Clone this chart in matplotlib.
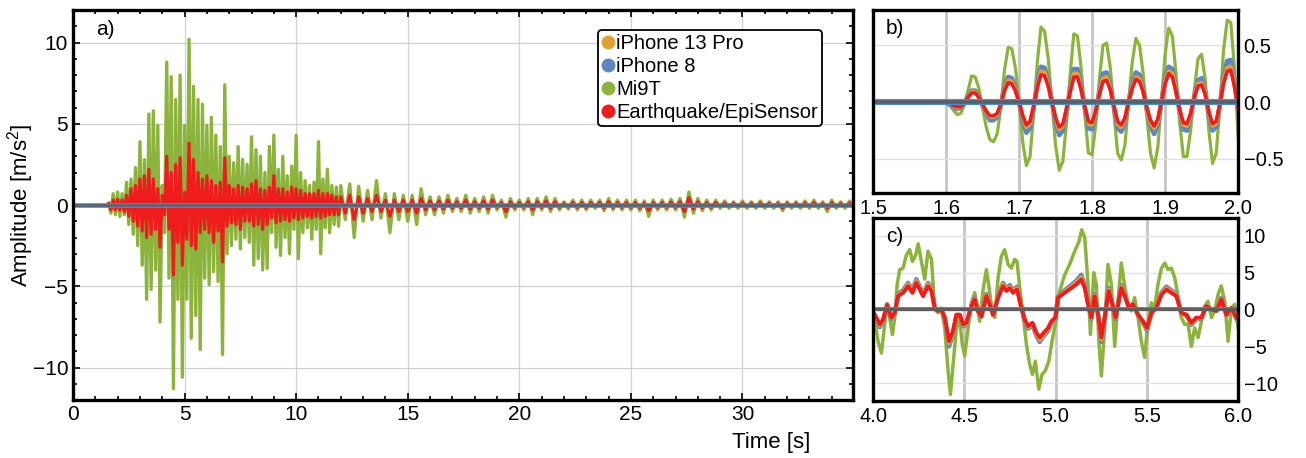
import numpy as np
import matplotlib
matplotlib.use("Agg")
import matplotlib.pyplot as plt
from matplotlib.lines import Line2D
from matplotlib.ticker import MultipleLocator

plt.rcParams['font.family'] = ['Liberation Sans', 'DejaVu Sans']
plt.rcParams['font.size'] = 13.5
plt.rcParams['mathtext.fontset'] = 'custom'
plt.rcParams['mathtext.rm'] = 'Liberation Sans'
plt.rcParams['mathtext.it'] = 'Liberation Sans:italic'
plt.rcParams['mathtext.bf'] = 'Liberation Sans:bold'

# colours of the four records
c_13pro = '#e3a033'
c_8 = '#5f86c2'
c_mi9t = '#8cb43c'
c_eq = '#ee1c1c'
c_flat_blue = '#3d93dc'
c_flat_gray = '#5e5e5e'

# ---- panel a: whole record, peaks ----
# 1.6 s .. 12.0 s, one value every 0.1 s
mi9t_a1 = [0.1, -0.5, 0.7, -0.6, 0.8, -0.7, 0.7, -0.6, 1.4, -1.2,
           1.6, -1.8, 2.3, -2.5, 3.9, -3.7, 2.8, -5.8, 5.6, -5.2,
           5.8, -4.0, 4.9, -7.2, 1.2, -1.7, 8.8, -4.5, 7.9, -11.3,
           6.5, -5.8, 8.0, -10.6, 4.9, -5.8, 10.2, -8.2, 7.3, -6.8,
           6.5, -8.9, 6.2, -4.5, 4.9, -4.9, 5.4, -4.1, 4.3, -4.7,
           3.6, -9.2, 7.4, -3.0, 3.0, -2.5, 2.6, -2.1, 3.6, -2.7,
           2.8, -2.0, 2.5, -2.3, 4.2, -3.7, 3.4, -3.3, 3.0, -4.0,
           2.0, -3.9, 3.6, -1.7, 4.3, -2.6, 2.2, -3.1, 3.0, -2.0,
           1.8, -3.0, 2.4, -1.5, 4.3, -3.3, 2.0, -1.7, 1.5, -1.4,
           1.2, -2.1, 1.4, -1.5, 3.9, -3.0, 1.6, -1.4, 2.2, -1.7,
           1.2, -1.2, 1.1, -1.3, 1.2]
eq_a1 = [0.1, -0.3, 0.3, -0.3, 0.35, -0.3, 0.3, -0.4, 0.6, -0.7,
         1.0, -1.0, 1.2, -1.3, 1.6, -1.6, 1.8, -2.0, 2.2, -1.8,
         1.6, -1.5, 1.0, -2.6, 0.6, -0.6, 3.0, -1.5, 2.0, -4.3,
         2.5, -2.3, 2.9, -3.7, 0.8, -2.1, 3.8, -2.5, 2.8, -2.7,
         2.0, -1.7, 1.6, -1.5, 1.8, -1.7, 1.5, -2.3, 1.2, -1.6,
         1.4, -3.5, 2.9, -1.3, 1.2, -1.1, 1.0, -1.2, 1.2, -1.5,
         1.1, -1.0, 1.0, -1.0, 1.3, -1.3, 1.5, -1.2, 1.0, -1.5,
         0.9, -1.2, 1.1, -0.8, 1.8, -1.1, 1.0, -1.0, 1.0, -0.9,
         0.8, -1.0, 1.1, -0.8, 1.0, -0.9, 0.9, -0.8, 0.7, -0.7,
         0.7, -0.8, 0.7, -0.7, 0.9, -0.8, 0.7, -0.7, 0.7, -0.6,
         0.6, -0.6, 0.5, -0.6, 0.5]
# 12.2 s .. 35.0 s, one value every 0.2 s
mi9t_a2 = [-0.9, 1.3, -2.0, 1.15, -1.0, 0.9, -0.9, 1.5, -0.8, 0.7,
           -1.7, 0.7, -0.9, 0.6, -1.0, 0.6, -1.2, 1.0, -0.6, 0.5,
           -0.6, 0.5, -0.5, 0.6, -0.4, 0.4, -0.4, 0.6, -0.5, 0.4,
           -0.4, 0.5, -0.5, 0.6, -0.3, 0.3, -0.75, 0.4, -0.3, 0.3,
           -0.3, 0.4, -0.6, 0.4, -0.3, 0.5, -0.4, 0.4, -0.3, 0.2,
           -0.25, 0.3, -0.3, 0.3, -0.3, 0.3, -0.2, 0.3, -0.35, 0.4,
           -0.3, 0.3, -0.3, 0.3, -0.3, 0.3, -0.35, 0.25, -0.7, 0.3,
           -0.3, 0.3, -0.3, 0.35, -0.3, 0.4, -0.75, 0.8, -0.5, 0.4,
           -0.35, 0.3, -0.3, 0.3, -0.2, 0.25, -0.2, 0.2, -0.2, 0.25,
           -0.2, 0.2, -0.2, 0.25, -0.2, 0.2, -0.2, 0.2, -0.35, 0.2,
           -0.2, 0.2, -0.2, 0.25, -0.2, 0.3, -0.2, 0.2, -0.4, 0.3,
           -0.2, 0.2, -0.2, 0.25, -0.2]
eq_a2 = [-0.5, 0.6, -0.9, 0.5, -0.5, 0.4, -0.4, 0.6, -0.4, 0.3,
         -0.7, 0.3, -0.4, 0.3, -0.4, 0.3, -0.5, 0.4, -0.3, 0.25,
         -0.3, 0.25, -0.25, 0.3, -0.2, 0.2, -0.2, 0.3, -0.25, 0.2,
         -0.2, 0.25, -0.25, 0.3, -0.15, 0.15, -0.4, 0.2, -0.15, 0.15,
         -0.15, 0.2, -0.3, 0.2, -0.15, 0.25, -0.2, 0.2, -0.15, 0.1,
         -0.12, 0.15, -0.15, 0.15, -0.15, 0.15, -0.1, 0.15, -0.18, 0.2,
         -0.15, 0.15, -0.15, 0.15, -0.15, 0.15, -0.18, 0.12, -0.35, 0.15,
         -0.15, 0.15, -0.15, 0.18, -0.15, 0.2, -0.4, 0.45, -0.25, 0.2,
         -0.18, 0.15, -0.15, 0.15, -0.1, 0.12, -0.1, 0.1, -0.1, 0.12,
         -0.1, 0.1, -0.1, 0.12, -0.1, 0.1, -0.1, 0.1, -0.18, 0.1,
         -0.1, 0.1, -0.1, 0.12, -0.1, 0.15, -0.1, 0.1, -0.2, 0.15,
         -0.1, 0.1, -0.1, 0.12, -0.1]

# ---- panel b: onset 1.6 s .. 2.0 s, one value every 5 ms ----
mi9t_b = [-0.01, -0.03, -0.07, -0.11, -0.10, -0.03, 0.10, 0.23,
          0.22, 0.12, -0.05, -0.22, -0.33, -0.35, -0.28, -0.05, 0.28, 0.48,
          0.47, 0.30, 0.0, -0.35, -0.56, -0.48, -0.10, 0.35, 0.66,
          0.62, 0.38, 0.0, -0.38, -0.60, -0.52, -0.18, 0.25, 0.60,
          0.58, 0.30, -0.10, -0.45, -0.46, -0.20, 0.20, 0.50,
          0.52, 0.30, -0.10, -0.45, -0.51, -0.38, 0.0, 0.35, 0.56,
          0.50, 0.25, -0.12, -0.45, -0.58, -0.40, 0.0, 0.42, 0.65,
          0.58, 0.25, -0.18, -0.48, -0.48, -0.25, 0.10, 0.38,
          0.42, 0.20, -0.25, -0.54, -0.45, -0.05, 0.45, 0.72, 0.70, 0.30, -0.30]
eq_b = [0.0, -0.01, -0.03, -0.04, -0.04, -0.01, 0.04, 0.08,
        0.08, 0.04, -0.02, -0.08, -0.12, -0.12, -0.10, -0.02, 0.10, 0.17,
        0.16, 0.10, 0.0, -0.12, -0.20, -0.17, -0.04, 0.13, 0.24,
        0.23, 0.14, 0.0, -0.14, -0.22, -0.19, -0.06, 0.09, 0.22,
        0.22, 0.11, -0.04, -0.17, -0.18, -0.08, 0.07, 0.18,
        0.19, 0.11, -0.04, -0.17, -0.20, -0.14, 0.0, 0.12, 0.20,
        0.18, 0.09, -0.05, -0.16, -0.21, -0.15, 0.0, 0.16, 0.25,
        0.22, 0.09, -0.07, -0.18, -0.19, -0.10, 0.04, 0.14,
        0.15, 0.07, -0.09, -0.19, -0.17, -0.02, 0.16, 0.27, 0.28, 0.14, -0.05]
ip8_b = [0.0, -0.02, -0.04, -0.06, -0.05, -0.01, 0.05, 0.10,
         0.10, 0.05, -0.03, -0.10, -0.16, -0.16, -0.13, -0.03, 0.13, 0.22,
         0.21, 0.13, 0.0, -0.16, -0.27, -0.23, -0.05, 0.17, 0.31,
         0.30, 0.18, 0.0, -0.18, -0.29, -0.25, -0.08, 0.12, 0.29,
         0.29, 0.15, -0.05, -0.23, -0.24, -0.10, 0.09, 0.25,
         0.26, 0.15, -0.05, -0.23, -0.26, -0.18, 0.0, 0.16, 0.26,
         0.24, 0.12, -0.07, -0.21, -0.28, -0.20, 0.0, 0.21, 0.31,
         0.29, 0.12, -0.09, -0.24, -0.25, -0.13, 0.05, 0.19,
         0.21, 0.09, -0.12, -0.25, -0.22, -0.03, 0.21, 0.36, 0.37, 0.18, -0.07]
ip13_b = [0.0, -0.01, -0.03, -0.05, -0.04, -0.01, 0.04, 0.09,
          0.09, 0.04, -0.02, -0.09, -0.13, -0.13, -0.11, -0.02, 0.11, 0.19,
          0.18, 0.11, 0.0, -0.13, -0.22, -0.19, -0.04, 0.14, 0.27,
          0.26, 0.15, 0.0, -0.15, -0.24, -0.21, -0.07, 0.10, 0.25,
          0.25, 0.12, -0.04, -0.19, -0.20, -0.09, 0.08, 0.21,
          0.22, 0.12, -0.04, -0.19, -0.22, -0.15, 0.0, 0.13, 0.22,
          0.20, 0.10, -0.06, -0.18, -0.23, -0.17, 0.0, 0.18, 0.27,
          0.25, 0.10, -0.08, -0.20, -0.21, -0.11, 0.04, 0.16,
          0.17, 0.08, -0.10, -0.21, -0.19, -0.02, 0.18, 0.30, 0.31, 0.16, -0.06]

# ---- panel c: strong motion 4 s .. 6 s ----
t_c_mi9t = [4.009, 4.027, 4.046, 4.064, 4.077, 4.091, 4.106, 4.119, 4.132, 4.146,
            4.164, 4.183, 4.201, 4.216, 4.234, 4.247, 4.265, 4.283, 4.301, 4.320,
            4.338, 4.356, 4.374, 4.393, 4.411, 4.424, 4.442, 4.457, 4.471, 4.489,
            4.502, 4.521, 4.539, 4.557, 4.570, 4.584, 4.603, 4.621, 4.636, 4.654,
            4.667, 4.685, 4.703, 4.721, 4.740, 4.758, 4.776, 4.789, 4.804, 4.822,
            4.840, 4.858, 4.873, 4.889, 4.908, 4.926, 4.944, 4.963, 4.981,
            5.004, 5.023, 5.050, 5.077, 5.105, 5.128, 5.143, 5.160, 5.178, 5.191,
            5.209, 5.223, 5.238, 5.251, 5.269, 5.287, 5.306, 5.324, 5.342, 5.360,
            5.379, 5.397, 5.415, 5.433, 5.452, 5.470, 5.488, 5.507, 5.525, 5.543,
            5.561, 5.580, 5.598, 5.616, 5.634, 5.653, 5.671, 5.689, 5.707, 5.726,
            5.744, 5.762, 5.781, 5.799, 5.817, 5.835, 5.854, 5.872, 5.890, 5.908,
            5.927, 5.945, 5.963, 5.981, 6.000]
mi9t_c = [-1.1, -4.3, -5.9, -2.0, 0.8, -1.1, -3.4, -1.1, 3.4, 5.4,
          5.6, 7.4, 8.1, 6.5, 7.4, 8.9, 6.5, 4.1, 7.9, 6.8,
          0.0, -0.45, 0.2, -2.5, -8.3, -11.5, -6.5, -2.5, -0.7, -4.7,
          -6.3, -2.5, 0.9, 2.3, 0.45, -1.6, 2.7, 5.4, 2.9, -0.45,
          -1.1, 4.3, 7.2, 8.1, 6.1, 5.6, 6.8, 6.5, 2.9, -0.7,
          -4.7, -7.4, -8.8, -7.0, -10.8, -8.8, -8.3, -7.0, -4.3,
          -1.1, 2.5, 4.7, 6.1, 7.9, 9.2, 10.8, 9.7, 3.4, -3.4,
          5.0, 3.4, -4.7, -9.0, -2.5, 6.1, 3.4, -5.0, 1.1, 6.3,
          3.2, 0.7, -0.2, 1.6, -1.1, -4.3, -6.5, -1.6, 0.9, 0.2,
          3.4, 5.6, 6.3, 5.4, 5.6, 4.3, 1.8, -1.1, -2.0, -2.0,
          -5.0, -2.5, -3.8, -1.6, 0.45, 1.1, -1.1, -0.2, 2.0, 3.2,
          1.1, -4.3, 0.0, 0.7, -2.5]
t_c_eq = [4.009, 4.037, 4.055, 4.077, 4.100, 4.119, 4.137, 4.164, 4.192, 4.216,
          4.237, 4.256, 4.274, 4.301, 4.320, 4.338, 4.356, 4.374, 4.393, 4.416,
          4.438, 4.457, 4.475, 4.493, 4.511, 4.539, 4.557, 4.575, 4.594, 4.621,
          4.639, 4.658, 4.685, 4.712, 4.731, 4.749, 4.767, 4.789, 4.813, 4.831,
          4.849, 4.873, 4.895, 4.913, 4.935, 4.959, 4.977, 4.999,
          5.013, 5.050, 5.086, 5.114, 5.141, 5.160, 5.178, 5.196, 5.214, 5.233,
          5.251, 5.269, 5.291, 5.311, 5.329, 5.360, 5.379, 5.402, 5.424, 5.452,
          5.479, 5.501, 5.525, 5.552, 5.580, 5.607, 5.634, 5.662, 5.689, 5.717,
          5.744, 5.771, 5.799, 5.826, 5.854, 5.881, 5.908, 5.936, 5.963, 5.991]
eq_c = [-0.7, -2.0, -1.35, 0.6, -1.1, -0.45, 1.8, 2.25, 3.15, 2.25,
        3.6, 2.7, 1.8, 3.15, 2.5, 0.2, -0.2, 0.0, -1.1, -4.3,
        -2.9, -0.7, -0.7, -2.0, -1.8, 0.45, 1.35, -0.2, -0.9, 1.8,
        0.7, -0.7, 1.6, 3.15, 2.5, 2.9, 2.25, 2.7, 0.2, -1.35,
        -2.25, -1.8, -3.15, -3.8, -3.15, -2.5, -1.6, -1.1,
        1.6, 2.25, 2.9, 3.4, 4.05, 2.9, 0.7, -1.1, 1.8, -0.7,
        -3.8, -1.1, 2.5, 0.7, -1.1, 2.9, 1.8, 0.2, 0.7, -0.7,
        -1.6, -2.5, -0.45, 0.2, 2.0, 2.7, 2.25, 1.8, -0.45, -0.7,
        -1.8, -1.1, -1.1, 0.45, 0.0, -0.2, 1.35, -0.7, 0.2, -1.1]
ip8_c = [-0.8, -2.4, -1.6, 0.7, -1.3, -0.5, 2.1, 2.6, 3.6, 2.6,
         4.1, 3.1, 2.1, 3.6, 2.9, 0.2, -0.2, 0.0, -1.3, -5.0,
         -3.4, -0.8, -0.8, -2.3, -2.1, 0.5, 1.6, -0.2, -1.0, 2.1,
         0.8, -0.8, 1.8, 3.6, 2.9, 3.3, 2.6, 3.1, 0.2, -1.6,
         -2.6, -2.1, -3.6, -4.4, -3.6, -2.9, -1.8, -1.3,
         1.8, 2.6, 3.3, 3.9, 4.7, 3.3, 0.8, -1.3, 2.1, -0.8,
         -4.4, -1.3, 2.9, 0.8, -1.3, 3.3, 2.1, 0.2, 0.8, -0.8,
         -1.8, -2.9, -0.5, 0.2, 2.3, 3.1, 2.6, 2.1, -0.5, -0.8,
         -2.1, -1.3, -1.3, 0.5, 0.0, -0.2, 1.6, -0.8, 0.2, -1.3]
ip13_c = [-0.75, -2.15, -1.45, 0.65, -1.2, -0.5, 1.95, 2.4, 3.4, 2.4,
          3.85, 2.9, 1.95, 3.4, 2.7, 0.2, -0.2, 0.0, -1.2, -4.6,
          -3.1, -0.75, -0.75, -2.15, -1.95, 0.5, 1.45, -0.2, -0.95, 1.95,
          0.75, -0.75, 1.7, 3.4, 2.7, 3.1, 2.4, 2.9, 0.2, -1.45,
          -2.4, -1.95, -3.4, -4.1, -3.4, -2.7, -1.7, -1.2,
          1.7, 2.4, 3.1, 3.65, 4.35, 3.1, 0.75, -1.2, 1.95, -0.75,
          -4.1, -1.2, 2.7, 0.75, -1.2, 3.1, 1.95, 0.2, 0.75, -0.75,
          -1.7, -2.7, -0.5, 0.2, 2.15, 2.9, 2.4, 1.95, -0.5, -0.75,
          -1.95, -1.2, -1.2, 0.5, 0.0, -0.2, 1.45, -0.75, 0.2, -1.2]

labels = ['iPhone 13 Pro', 'iPhone 8', 'Mi9T', 'Earthquake/EpiSensor']

t_a1 = 1.6 + 0.1 * np.arange(len(mi9t_a1))
t_a2 = 12.2 + 0.2 * np.arange(len(mi9t_a2))
t_a = np.concatenate([t_a1, t_a2])
t_eq_a = np.concatenate([1.6 + 0.1 * np.arange(len(eq_a1)),
                         12.2 + 0.2 * np.arange(len(eq_a2))])
t_b = 1.6 + 0.005 * np.arange(len(mi9t_b))

fig = plt.figure(figsize=(13.06, 4.58), dpi=100)
ax_a = fig.add_axes([0.0559, 0.1266, 0.5972, 0.8515])
ax_b = fig.add_axes([0.6685, 0.5786, 0.2795, 0.3996])
ax_c = fig.add_axes([0.6685, 0.1245, 0.2795, 0.3996])

# panel a
ax_a.plot(t_a, mi9t_a1 + mi9t_a2, color=c_mi9t, lw=2.4)
ax_a.plot(t_eq_a, eq_a1 + eq_a2, color=c_eq, lw=2.3)
ax_a.axhline(0, color=c_flat_blue, lw=3.4)
ax_a.axhline(0, color=c_flat_gray, lw=2.0, alpha=0.85)
ax_a.set_xlim(0, 34.95)
ax_a.set_ylim(-12, 12)
ax_a.xaxis.set_major_locator(MultipleLocator(5))
ax_a.xaxis.set_minor_locator(MultipleLocator(1))
ax_a.yaxis.set_major_locator(MultipleLocator(5))
ax_a.yaxis.set_minor_locator(MultipleLocator(1))
ax_a.tick_params(which='both', direction='in', top=True, right=True, width=1.2, labelsize=15)
ax_a.tick_params(which='major', length=5)
ax_a.tick_params(which='minor', length=3)
ax_a.grid(True, color='#d0d0d0', lw=0.9)
ax_a.set_axisbelow(True)
ax_a.set_ylabel('Amplitude [m/s$^2$]', fontsize=16)
ax_a.yaxis.set_label_coords(-0.047, 0.5)
ax_a.set_xlabel('Time [s]', fontsize=16, x=0.895, ha='center', labelpad=6)
ax_a.text(0.03, 0.95, 'a)', transform=ax_a.transAxes, ha='left', va='center', fontsize=15)

handles = [Line2D([], [], ls='none', marker='o', ms=9, color=c) for c in (c_13pro, c_8, c_mi9t, c_eq)]
leg = ax_a.legend(handles, labels, loc='upper right', bbox_to_anchor=(0.96, 0.95), borderaxespad=0,
                  fontsize=14.5, handlelength=0.6, handletextpad=0.1, labelspacing=0.2,
                  borderpad=0.2, fancybox=True, framealpha=1, edgecolor='black')
leg.get_frame().set_linewidth(1.3)

# panel b
ax_b.plot(t_b, mi9t_b, color=c_mi9t, lw=2.3)
ax_b.plot(t_b, ip8_b, color=c_8, lw=3.4)
ax_b.plot(t_b, ip13_b, color=c_13pro, lw=3.0)
ax_b.plot(t_b, eq_b, color=c_eq, lw=2.6)
ax_b.axhline(0, color=c_flat_blue, lw=4.4)
ax_b.axhline(0, color=c_flat_gray, lw=2.6)
ax_b.set_xlim(1.5, 2.0)
ax_b.set_ylim(-0.8, 0.81)
ax_b.set_xticks([1.5, 1.6, 1.7, 1.8, 1.9, 2.0])
ax_b.set_yticks([-0.5, 0.0, 0.5])
ax_b.text(0.035, 0.9, 'b)', transform=ax_b.transAxes, ha='left', va='center', fontsize=15)

# panel c
ax_c.plot(t_c_mi9t, mi9t_c, color=c_mi9t, lw=2.5)
ax_c.plot(t_c_eq, ip8_c, color=c_8, lw=3.2)
ax_c.plot(t_c_eq, ip13_c, color=c_13pro, lw=3.0)
ax_c.plot(t_c_eq, eq_c, color=c_eq, lw=2.8)
ax_c.axhline(0, color=c_flat_blue, lw=2.8)
ax_c.axhline(0, color=c_flat_gray, lw=2.4)
ax_c.set_xlim(4.0, 6.0)
ax_c.set_ylim(-12.4, 12.4)
ax_c.set_xticks([4.0, 4.5, 5.0, 5.5, 6.0])
ax_c.set_yticks([-10, -5, 0, 5, 10])
ax_c.text(0.035, 0.9, 'c)', transform=ax_c.transAxes, ha='left', va='center', fontsize=15)

for ax in (ax_b, ax_c):
    ax.yaxis.tick_right()
    ax.tick_params(length=0, pad=4, labelsize=14.5)
    ax.grid(axis='x', color='#c4c4c4', lw=2.0)
    ax.grid(axis='y', color='#e2e2e2', lw=1.0)
    ax.set_axisbelow(True)

for ax in (ax_a, ax_b, ax_c):
    for s in ax.spines.values():
        s.set_linewidth(2.4)

fig.savefig('out.png', dpi=100)
